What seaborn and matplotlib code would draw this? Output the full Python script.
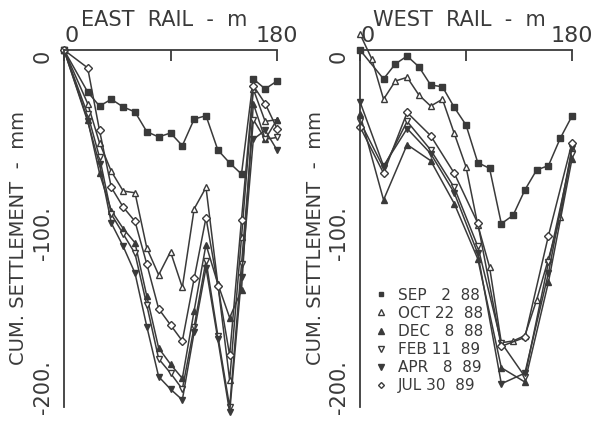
import matplotlib
matplotlib.use("Agg")
import matplotlib.pyplot as plt
from matplotlib.lines import Line2D
from matplotlib.transforms import ScaledTranslation
import seaborn as sns
import pandas as pd

# distances along the rail (m)
east_dist = [0, 20, 30, 40, 50, 60, 70, 80, 90, 100, 110, 120, 130, 140, 150, 160, 170, 180]
west_dist = [0, 20, 30, 40, 50, 60, 70, 80, 90, 100, 110, 120, 130, 140, 150, 160, 170, 180]
west_dist_oct = [0, 10, 20, 30, 40, 50, 60, 70, 80, 90, 100, 110, 120, 130, 140, 150, 160, 170, 180]
west_dist_late = [0, 20, 40, 60, 80, 100, 120, 140, 160, 180]

# cumulative settlement (mm)
east_sep = [0, -23.5, -31.4, -27.6, -31.9, -34.7, -45.8, -48.7, -46.5, -53.6, -38.7, -36.8, -56, -63.3, -69.5, -16.2, -21.8, -17.4]
east_oct = [0, -30, -52, -68, -79, -80, -111, -126, -113, -133, -89, -77, -131, -185, -105, -22, -40, -39]
east_dec = [0, -39, -69, -90, -100, -108, -138, -167, -176, -184, -146, -109, -131, -150, -134.5, -30, -50, -39]
east_feb = [0, -36, -60, -92, -103, -114, -143, -173, -181, -190, -155, -118, -160, -200, -120, -39, -50, -49]
east_apr = [0, -40, -64, -97, -110, -125, -155, -183, -190, -196, -158, -122, -162, -203, -127, -50, -45, -56]
east_jul = [0, -10, -45, -77, -88, -96, -120, -145, -154, -163, -128, -94, -132, -171, -95, -20, -30, -44]

west_sep = [0, -16.2, -7.8, -3.4, -9.4, -19.6, -20.6, -32.1, -42, -63.1, -66.3, -97.3, -92.6, -78.4, -67.2, -64.8, -49.5, -37]
west_oct = [9, -5, -27.6, -17.4, -15.3, -25.2, -31.4, -27.6, -46.7, -65.4, -98, -121.6, -164, -163, -160, -140, -117, -93.6, -55]
west_dec = [-36, -84, -53, -62, -86, -117, -178, -186, -130, -61]
west_feb = [-40, -66, -40, -56, -77, -110, -164, -183, -119, -58]
west_apr = [-29, -65, -44, -58, -80, -114, -187, -181, -125, -55]
west_jul = [-43, -69, -35, -48, -69, -97, -166, -161, -104, -52]

months = ["SEP", "OCT", "DEC", "FEB", "APR", "JUL"]
days = ["2", "22", "8", "11", "8", "30"]
years = ["88", "88", "88", "89", "89", "89"]

INK = "#3a3a3a"
# marker, filled?, size
STYLE = {
    "SEP": ("s", True, 4.2),
    "OCT": ("^", False, 4.5),
    "DEC": ("^", True, 4.5),
    "FEB": ("v", False, 4.5),
    "APR": ("v", True, 4.5),
    "JUL": ("D", False, 3.8),
}

sns.set_theme(style="white")
plt.rcParams["font.family"] = ["DejaVu Sans"]
plt.rcParams["text.color"] = INK
plt.rcParams["axes.edgecolor"] = INK
plt.rcParams["xtick.color"] = INK
plt.rcParams["ytick.color"] = INK


def draw_series(ax, name, dist, vals):
    df = pd.DataFrame({"dist": dist, "settle": vals})
    marker, filled, ms = STYLE[name]
    sns.lineplot(data=df, x="dist", y="settle", ax=ax, color=INK, linewidth=1.1,
                 marker=marker, markersize=ms, markeredgecolor=INK, markeredgewidth=1.0,
                 markerfacecolor=INK if filled else "white",
                 estimator=None, errorbar=None, sort=False, clip_on=False)


def setup_axes(ax, title, title_x, ylab_x):
    ax.set_xlim(0, 180)
    ax.set_ylim(-200, 0)
    ax.spines["right"].set_visible(False)
    ax.spines["bottom"].set_visible(False)
    for s in ("left", "top"):
        ax.spines[s].set_linewidth(1.3)
    ax.xaxis.tick_top()
    ax.set_xticks([0, 90, 180])
    ax.set_xticklabels(["0", "", "180"])
    ax.get_xticklabels()[0].set_ha("left")
    ax.set_yticks([0, -100, -200])
    ax.set_yticklabels(["0", "-100.", "-200."], rotation=90, va="center")
    ax.tick_params(axis="x", direction="in", length=8, width=1.3, pad=3, labelsize=16)
    ax.tick_params(axis="y", direction="in", length=8, width=1.3, pad=8, labelsize=15)
    # nudge the y tick labels like the original (bottom one pushed up to stay on the sheet)
    for lab, dy in zip(ax.get_yticklabels(), [-6, -5, 20]):
        lab.set_transform(lab.get_transform() + ScaledTranslation(0, dy / 100, fig.dpi_scale_trans))
    ax.set_xlabel("")
    ax.set_ylabel("")
    ax.text(title_x, 1.085, title, transform=ax.transAxes, ha="center", va="center", fontsize=15)
    ax.text(ylab_x, 0.473, "CUM. SETTLEMENT  -  mm", transform=ax.transAxes,
            ha="center", va="center", rotation=90, fontsize=14)


fig = plt.figure(figsize=(5.98, 4.24), dpi=100)
ax1 = fig.add_axes([64 / 598, 17 / 424, 213 / 598, 357 / 424])
ax2 = fig.add_axes([360 / 598, 17 / 424, 212 / 598, 357 / 424])

for name, vals in zip(months, [east_sep, east_oct, east_dec, east_feb, east_apr, east_jul]):
    draw_series(ax1, name, east_dist, vals)

draw_series(ax2, "SEP", west_dist, west_sep)
draw_series(ax2, "OCT", west_dist_oct, west_oct)
for name, vals in zip(["DEC", "FEB", "APR", "JUL"], [west_dec, west_feb, west_apr, west_jul]):
    draw_series(ax2, name, west_dist_late, vals)

setup_axes(ax1, "EAST  RAIL  -  m", 0.472, -0.215)
setup_axes(ax2, "WEST  RAIL  -  m", 0.47, -0.21)

# legend
handles = []
labels = []
for m, d, y in zip(months, days, years):
    marker, filled, ms = STYLE[m]
    handles.append(Line2D([], [], ls="none", marker=marker, markersize=ms - 0.8,
                          markeredgecolor=INK, markerfacecolor=INK if filled else "white",
                          markeredgewidth=1.0))
    labels.append(f"{m} {d.rjust(2, chr(0x2007))}  {y}")
leg = ax2.legend(handles, labels, loc="upper left", bbox_to_anchor=(0.065, 0.334),
                 frameon=False, fontsize=11, handlelength=1.0, handletextpad=0.6,
                 labelspacing=0.2, borderpad=0, borderaxespad=0)

fig.savefig("out.png", dpi=100, facecolor="white")
